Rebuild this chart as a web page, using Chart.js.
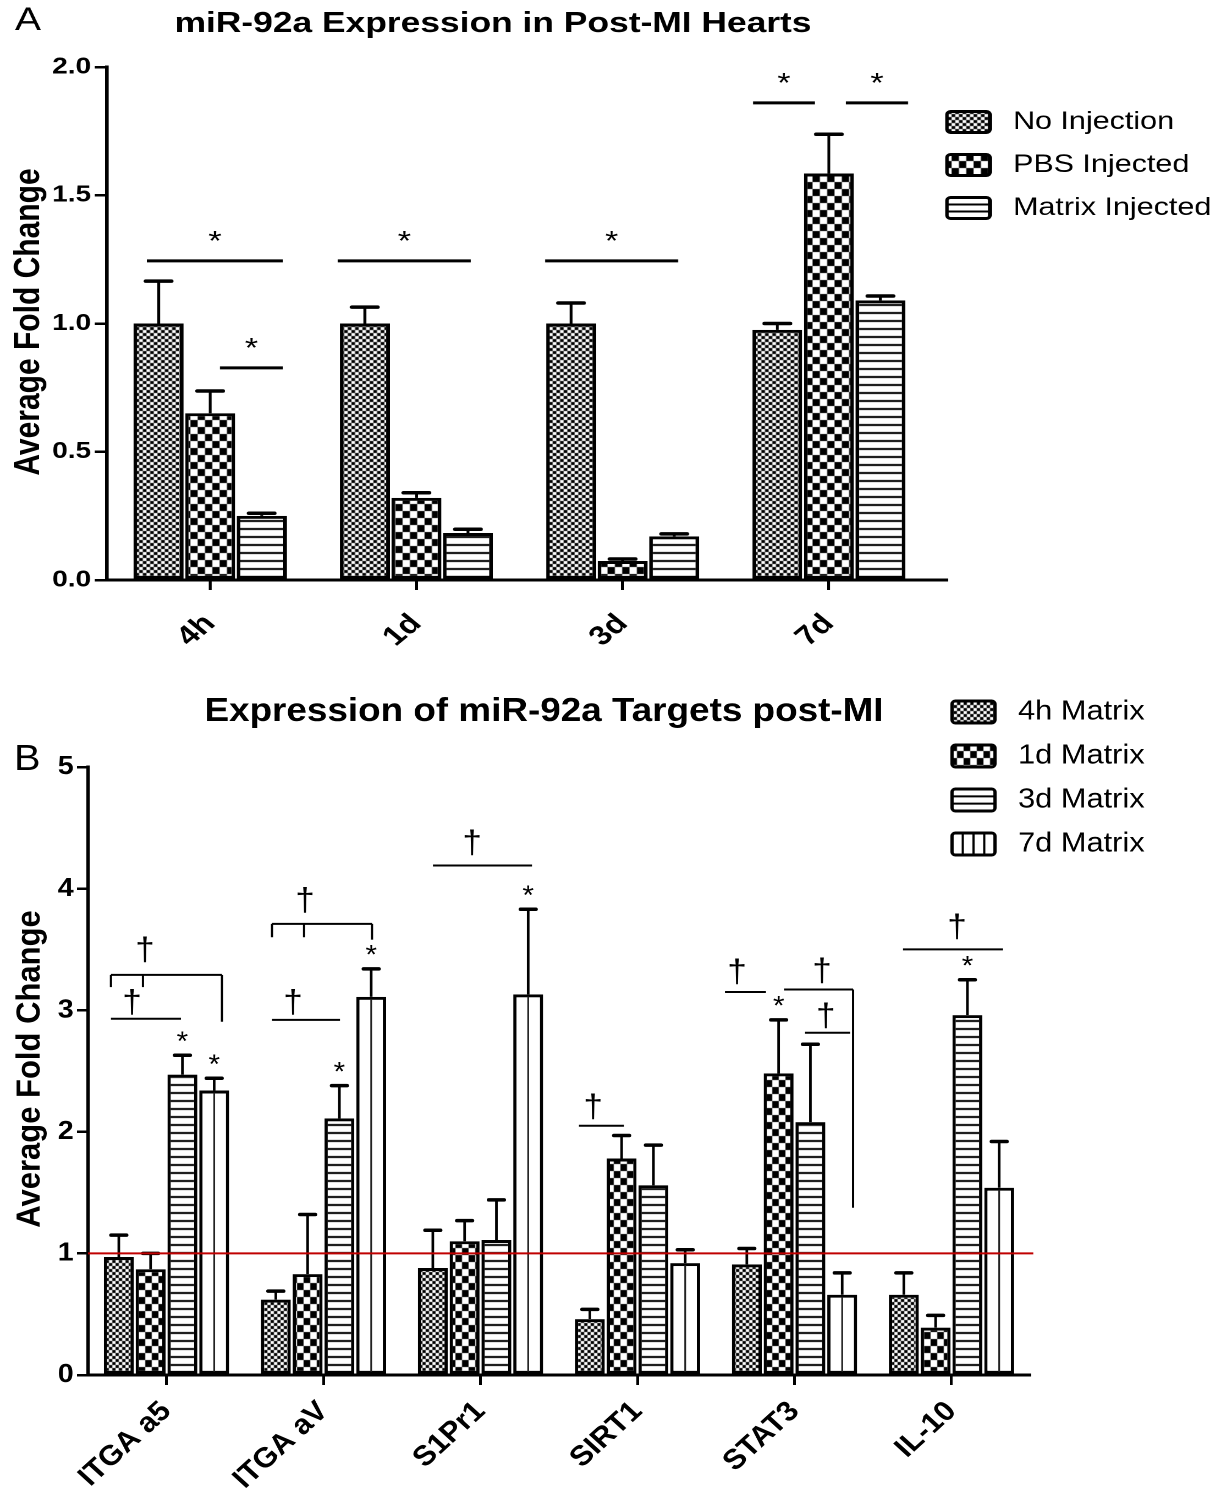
<!DOCTYPE html>
<html>
<head>
<meta charset="utf-8">
<title>miR-92a expression post-MI</title>
<script src="https://cdn.jsdelivr.net/npm/chart.js@4.4.1/dist/chart.umd.min.js"></script>
<style>
  body { margin: 0; background: #fff; }
  .panel { position: absolute; left: 0; transform-origin: 0 0; }
</style>
</head>
<body>
<div class="panel" id="panelA"><canvas id="chartA"></canvas></div>
<div class="panel" id="panelB"><canvas id="chartB"></canvas></div>
<script>
// ---- panel A: miR-92a in the heart after MI ----
const timepoints = ['4h', '1d', '3d', '7d'];
const groupsA = ['No Injection', 'PBS Injected', 'Matrix Injected'];
const noInjection = [1.00, 1.00, 1.00, 0.975];
const pbsInjected = [0.65, 0.32, 0.074, 1.585];
const matrixInjected = [0.25, 0.183, 0.17, 1.09];
const noInjectionSem = [0.165, 0.064, 0.08, 0.025];
const pbsInjectedSem = [0.087, 0.02, 0.008, 0.153];
const matrixInjectedSem = [0.01, 0.015, 0.01, 0.017];
const ticksA = [0, 0.5, 1.0, 1.5, 2.0];

// ---- panel B: miR-92a targets ----
const genes = ['ITGA a5', 'ITGA aV', 'S1Pr1', 'SIRT1', 'STAT3', 'IL-10'];
const groupsB = ['4h Matrix', '1d Matrix', '3d Matrix', '7d Matrix'];
const matrix4h = [0.97, 0.62, 0.88, 0.46, 0.91, 0.66];
const matrix1d = [0.87, 0.83, 1.10, 1.78, 2.48, 0.39];
const matrix3d = [2.47, 2.11, 1.11, 1.56, 2.08, 2.96];
const matrix7d = [2.34, 3.11, 3.13, 0.92, 0.66, 1.54];
const sem4h = [0.18, 0.07, 0.31, 0.08, 0.13, 0.18];
const sem1d = [0.13, 0.49, 0.17, 0.19, 0.44, 0.10];
const sem3d = [0.16, 0.27, 0.33, 0.33, 0.64, 0.29];
const sem7d = [0.10, 0.23, 0.70, 0.11, 0.18, 0.38];
const ticksB = [0, 1, 2, 3, 4, 5];
const baselineB = 1;

// significance bars: category, span as fraction of a category, height in data units
const sigA = [
  { cat: 0, from: -0.306, to: 0.353, y: 1.244 },
  { cat: 0, from: 0.048, to: 0.353, y: 0.827 },
  { cat: 1, from: -0.381, to: 0.264, y: 1.244 },
  { cat: 2, from: -0.376, to: 0.269, y: 1.244 },
  { cat: 3, from: -0.368, to: -0.068, y: 1.86 },
  { cat: 3, from: 0.083, to: 0.384, y: 1.86 }
];
const sigB = [
  { cat: 0, from: -0.354, to: 0.353, y: 3.29, legs: [[-0.354, 3.19], [-0.15, 3.19], [0.353, 2.905]], dag: [-0.137, 3.37] },
  { cat: 0, from: -0.354, to: 0.092, y: 2.93, legs: [], dag: [-0.22, 2.94] },
  { cat: 1, from: -0.328, to: 0.309, y: 3.71, legs: [[-0.328, 3.60], [-0.124, 3.60], [0.309, 3.58]], dag: [-0.118, 3.78] },
  { cat: 1, from: -0.328, to: 0.105, y: 2.92, legs: [], dag: [-0.194, 2.94] },
  { cat: 2, from: -0.303, to: 0.328, y: 4.19, legs: [], dag: [-0.054, 4.25] },
  { cat: 3, from: -0.373, to: -0.086, y: 2.05, legs: [], dag: [-0.283, 2.08] },
  { cat: 4, from: -0.443, to: -0.182, y: 3.15, legs: [], dag: [-0.366, 3.19] },
  { cat: 4, from: -0.067, to: 0.373, y: 3.17, legs: [[0.373, 1.375]], dag: [0.175, 3.20] },
  { cat: 4, from: 0.067, to: 0.354, y: 2.815, legs: [], dag: [0.20, 2.83] },
  { cat: 5, from: -0.309, to: 0.328, y: 3.50, legs: [], dag: [0.035, 3.56] }
];
// bars marked with * (category, series)
const starsB = [[0, 2], [0, 3], [1, 2], [1, 3], [2, 3], [4, 1], [5, 2]];

const FONT = 'Arial, "Liberation Sans", Helvetica, sans-serif';
Chart.defaults.font.family = FONT;
Chart.defaults.color = '#000';

// each panel is drawn narrower and stretched sideways
const SA = 1.22, SB = 1.1;
const WA = Math.round(1225 / SA), HA = 660;
const WB = Math.round(1225 / SB), HB = 836;

function setupPanel(panelId, canvasId, w, h, top, stretch) {
  const panel = document.getElementById(panelId);
  panel.style.top = top + 'px';
  panel.style.width = w + 'px';
  panel.style.height = h + 'px';
  panel.style.transform = 'scaleX(' + stretch + ')';
  const cv = document.getElementById(canvasId);
  cv.width = w;
  cv.height = h;
  return cv;
}

// fill patterns
function checker(cw, ch) {
  const c = document.createElement('canvas');
  c.width = cw * 2; c.height = ch * 2;
  const g = c.getContext('2d');
  g.fillStyle = '#fff'; g.fillRect(0, 0, c.width, c.height);
  g.fillStyle = '#000';
  g.fillRect(0, 0, cw, ch);
  g.fillRect(cw, ch, cw, ch);
  return g.createPattern(c, 'repeat');
}
function hStripes(period, thick) {
  const c = document.createElement('canvas');
  c.width = 4; c.height = period;
  const g = c.getContext('2d');
  g.fillStyle = '#fff'; g.fillRect(0, 0, 4, period);
  g.fillStyle = '#000'; g.fillRect(0, 0, 4, thick);
  return g.createPattern(c, 'repeat');
}
const fineChecker = checker(3, 3);
const coarseChecker = checker(6, 7);
const stripes = hStripes(8, 2);

function axisLook(tickW) {
  return {
    grid: { display: true, drawOnChartArea: false, drawTicks: true, tickLength: 10, lineWidth: tickW, color: '#000', offset: false },
    border: { display: true, width: 3, color: '#000' }
  };
}

function catPixel(chart, cat, frac) {
  const x = chart.scales.x;
  const w = x.getPixelForValue(1) - x.getPixelForValue(0);
  return x.getPixelForValue(cat) + frac * w;
}

function drawErrorBars(chart, sems, capW) {
  const ctx = chart.ctx, y = chart.scales.y;
  ctx.save();
  ctx.strokeStyle = '#000';
  sems.forEach((sem, i) => {
    const vals = chart.data.datasets[i].data;
    chart.getDatasetMeta(i).data.forEach((bar, j) => {
      const top = y.getPixelForValue(vals[j] + sem[j]);
      ctx.lineWidth = 2.4; ctx.lineCap = 'butt';
      ctx.beginPath(); ctx.moveTo(bar.x, bar.y); ctx.lineTo(bar.x, top); ctx.stroke();
      ctx.lineWidth = 3.5; ctx.lineCap = 'round';
      ctx.beginPath(); ctx.moveTo(bar.x - capW / 2, top); ctx.lineTo(bar.x + capW / 2, top); ctx.stroke();
    });
  });
  ctx.restore();
}

function drawStar(ctx, x, cy, size) {
  ctx.font = size + 'px ' + FONT;
  ctx.textAlign = 'center';
  ctx.textBaseline = 'alphabetic';
  ctx.fillText('*', x, cy + 0.58 * size);
}

function drawLegend(ctx, entries, boxX, boxW, boxH, textX, rows, fontSize) {
  ctx.font = fontSize + 'px ' + FONT;
  ctx.textAlign = 'left';
  ctx.textBaseline = 'middle';
  entries.forEach((e, i) => {
    const top = rows[i] - boxH / 2;
    ctx.fillStyle = e.kind === 'fine' ? fineChecker : e.kind === 'coarse' ? coarseChecker : '#fff';
    ctx.beginPath(); ctx.roundRect(boxX, top, boxW, boxH, 3); ctx.fill();
    ctx.strokeStyle = '#000';
    ctx.lineWidth = 2;
    if (e.kind === 'h') {
      for (let k = 1; k < 3; k++) {
        ctx.beginPath(); ctx.moveTo(boxX, top + k * boxH / 3); ctx.lineTo(boxX + boxW, top + k * boxH / 3); ctx.stroke();
      }
    } else if (e.kind === 'v') {
      for (let k = 1; k < 4; k++) {
        ctx.beginPath(); ctx.moveTo(boxX + k * boxW / 4, top); ctx.lineTo(boxX + k * boxW / 4, top + boxH); ctx.stroke();
      }
    }
    ctx.lineWidth = 3;
    ctx.beginPath(); ctx.roundRect(boxX, top, boxW, boxH, 3); ctx.stroke();
    ctx.fillStyle = '#000';
    ctx.fillText(e.label, textX, rows[i]);
  });
}

function drawYTitle(ctx, text, x, y, size) {
  ctx.save();
  ctx.font = 'bold ' + size + 'px ' + FONT;
  ctx.textAlign = 'center';
  ctx.textBaseline = 'middle';
  ctx.translate(x, y);
  ctx.rotate(-Math.PI / 2);
  ctx.fillText(text, 0, 0);
  ctx.restore();
}

const panelAExtras = {
  id: 'panelAExtras',
  afterDatasetsDraw(chart) {
    drawErrorBars(chart, [noInjectionSem, pbsInjectedSem, matrixInjectedSem], 21);
    const ctx = chart.ctx, y = chart.scales.y;
    ctx.save();
    ctx.strokeStyle = '#000'; ctx.fillStyle = '#000';
    ctx.lineWidth = 3;
    sigA.forEach(s => {
      const x0 = catPixel(chart, s.cat, s.from), x1 = catPixel(chart, s.cat, s.to);
      const py = y.getPixelForValue(s.y);
      ctx.beginPath(); ctx.moveTo(x0, py); ctx.lineTo(x1, py); ctx.stroke();
      drawStar(ctx, (x0 + x1) / 2, py - 27, 28);
    });
    ctx.restore();
  },
  afterDraw(chart) {
    const ctx = chart.ctx, area = chart.chartArea;
    ctx.save();
    // x axis runs on a little past the last group
    ctx.strokeStyle = '#000'; ctx.lineWidth = 3;
    ctx.beginPath(); ctx.moveTo(area.right, area.bottom); ctx.lineTo(948 / SA, area.bottom); ctx.stroke();
    ctx.fillStyle = '#000';
    ctx.font = 'bold 29px ' + FONT;
    ctx.textAlign = 'center'; ctx.textBaseline = 'middle';
    ctx.fillText('miR-92a Expression in Post-MI Hearts', 493 / SA, 24);
    ctx.font = '32px ' + FONT;
    ctx.textAlign = 'left';
    ctx.fillText('A', 15 / SA, 21);
    drawYTitle(ctx, 'Average Fold Change', 29 / SA, 322, 30);
    drawLegend(ctx, [
      { label: groupsA[0], kind: 'fine' },
      { label: groupsA[1], kind: 'coarse' },
      { label: groupsA[2], kind: 'h' }
    ], 947 / SA, 43 / SA, 21, 1013 / SA, [122, 165, 208], 25);
    ctx.restore();
  }
};

const panelBExtras = {
  id: 'panelBExtras',
  afterDatasetsDraw(chart) {
    const ctx = chart.ctx, y = chart.scales.y;
    ctx.save();
    // single centre rule in the 7d bars
    ctx.strokeStyle = '#222'; ctx.lineWidth = 1.6;
    chart.getDatasetMeta(3).data.forEach(bar => {
      ctx.beginPath(); ctx.moveTo(bar.x, bar.base - 2); ctx.lineTo(bar.x, bar.y + 2); ctx.stroke();
    });
    ctx.restore();
    drawErrorBars(chart, [sem4h, sem1d, sem3d, sem7d], 14);

    ctx.save();
    // reference line at fold change 1
    const py1 = y.getPixelForValue(baselineB);
    ctx.strokeStyle = '#c00000'; ctx.lineWidth = 2;
    ctx.beginPath(); ctx.moveTo(chart.chartArea.left, py1); ctx.lineTo(chart.chartArea.right + 3, py1); ctx.stroke();

    ctx.strokeStyle = '#000'; ctx.fillStyle = '#000'; ctx.lineWidth = 2;
    sigB.forEach(s => {
      const x0 = catPixel(chart, s.cat, s.from), x1 = catPixel(chart, s.cat, s.to);
      const py = y.getPixelForValue(s.y);
      ctx.beginPath(); ctx.moveTo(x0, py); ctx.lineTo(x1, py); ctx.stroke();
      s.legs.forEach(([f, v]) => {
        const lx = catPixel(chart, s.cat, f);
        ctx.beginPath(); ctx.moveTo(lx, py); ctx.lineTo(lx, y.getPixelForValue(v)); ctx.stroke();
      });
      ctx.font = '32px ' + FONT;
      ctx.textAlign = 'center'; ctx.textBaseline = 'alphabetic';
      ctx.fillText('\u2020', catPixel(chart, s.cat, s.dag[0]), y.getPixelForValue(s.dag[1]) - 5);
    });
    const values = [matrix4h, matrix1d, matrix3d, matrix7d];
    const sems = [sem4h, sem1d, sem3d, sem7d];
    starsB.forEach(([c, i]) => {
      const bar = chart.getDatasetMeta(i).data[c];
      const cap = y.getPixelForValue(values[i][c] + sems[i][c]);
      drawStar(ctx, bar.x, cap - 21, 27);
    });
    ctx.restore();
  },
  afterDraw(chart) {
    const ctx = chart.ctx;
    ctx.save();
    ctx.fillStyle = '#000';
    ctx.font = 'bold 33.5px ' + FONT;
    ctx.textAlign = 'center'; ctx.textBaseline = 'middle';
    ctx.fillText('Expression of miR-92a Targets post-MI', 544 / SB, 52);
    ctx.font = '36px ' + FONT;
    ctx.textAlign = 'left';
    ctx.fillText('B', 14 / SB, 100);
    drawYTitle(ctx, 'Average Fold Change', 30 / SB, 409, 31);
    drawLegend(ctx, [
      { label: groupsB[0], kind: 'fine' },
      { label: groupsB[1], kind: 'coarse' },
      { label: groupsB[2], kind: 'h' },
      { label: groupsB[3], kind: 'v' }
    ], 952 / SB, 43 / SB, 22, 1018 / SB, [52, 96, 140, 184], 28);
    ctx.restore();
  }
};

const commonOptions = {
  responsive: false,
  animation: false,
  events: [],
  devicePixelRatio: 2,
  plugins: { legend: { display: false }, tooltip: { enabled: false }, title: { display: false } }
};

const cvA = setupPanel('panelA', 'chartA', WA, HA, 0, SA);
new Chart(cvA, {
  type: 'bar',
  data: {
    labels: timepoints,
    datasets: [
      { label: groupsA[0], data: noInjection, backgroundColor: fineChecker },
      { label: groupsA[1], data: pbsInjected, backgroundColor: coarseChecker },
      { label: groupsA[2], data: matrixInjected, backgroundColor: stripes }
    ]
  },
  options: Object.assign({}, commonOptions, {
    datasets: { bar: { borderColor: '#000', borderWidth: 3, borderSkipped: false, categoryPercentage: 0.75, barPercentage: 0.97 } },
    layout: { autoPadding: false, padding: { left: 0, right: WA - 932 / SA, top: 67, bottom: 0 } },
    scales: {
      x: Object.assign(axisLook(2.5), {
        ticks: { font: { size: 27, weight: 'bold' }, color: '#000', maxRotation: 45, minRotation: 45, padding: 18 },
        afterFit: s => { s.height = HA - 580; }
      }),
      y: Object.assign(axisLook(2.5), {
        min: 0, max: 2,
        afterBuildTicks: s => { s.ticks = ticksA.map(v => ({ value: v })); },
        ticks: { font: { size: 23, weight: 'bold' }, color: '#000', padding: 3, callback: v => v.toFixed(1) },
        afterFit: s => { s.width = 107 / SA; }
      })
    }
  }),
  plugins: [panelAExtras]
});

const cvB = setupPanel('panelB', 'chartB', WB, HB, 660, SB);
new Chart(cvB, {
  type: 'bar',
  data: {
    labels: genes,
    datasets: [
      { label: groupsB[0], data: matrix4h, backgroundColor: fineChecker },
      { label: groupsB[1], data: matrix1d, backgroundColor: coarseChecker },
      { label: groupsB[2], data: matrix3d, backgroundColor: stripes },
      { label: groupsB[3], data: matrix7d, backgroundColor: '#fff' }
    ]
  },
  options: Object.assign({}, commonOptions, {
    datasets: { bar: { borderColor: '#000', borderWidth: 3, borderSkipped: false, categoryPercentage: 0.81, barPercentage: 0.94 } },
    layout: { autoPadding: false, padding: { left: 0, right: WB - 1030 / SB, top: 107, bottom: 0 } },
    scales: {
      x: Object.assign(axisLook(2.5), {
        ticks: { font: { size: 28, weight: 'bold' }, color: '#000', maxRotation: 45, minRotation: 45, padding: 10 },
        afterFit: s => { s.height = HB - 715; }
      }),
      y: Object.assign(axisLook(2.5), {
        min: 0, max: 5,
        afterBuildTicks: s => { s.ticks = ticksB.map(v => ({ value: v })); },
        ticks: { font: { size: 26, weight: 'bold' }, color: '#000', padding: 3 },
        afterFit: s => { s.width = 88 / SB; }
      })
    }
  }),
  plugins: [panelBExtras]
});
</script>
</body>
</html>
